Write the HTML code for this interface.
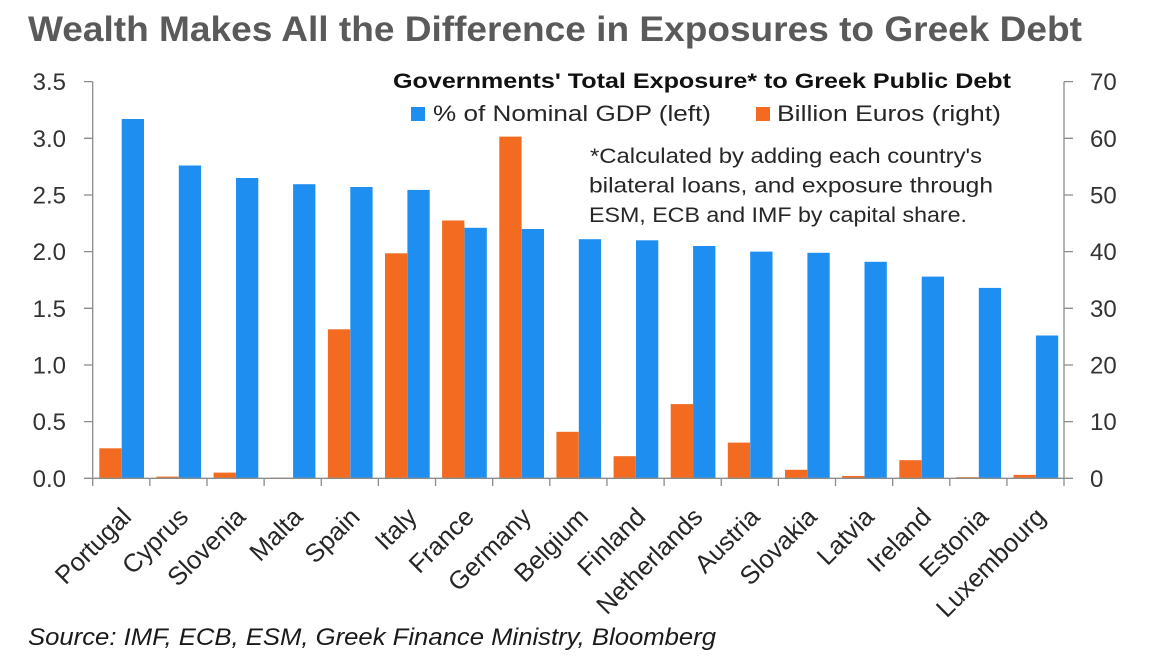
<!DOCTYPE html>
<html><head><meta charset="utf-8"><style>
html,body{margin:0;padding:0;background:#fff;}
svg{display:block;}
text{font-family:"Liberation Sans",Arial,sans-serif;}
</style></head><body>
<svg width="1168" height="656" viewBox="0 0 1168 656" xmlns="http://www.w3.org/2000/svg">
<rect width="1168" height="656" fill="#fff"/>
<text x="28" y="41" font-size="35" font-weight="bold" fill="#5a5a5a" textLength="1054" lengthAdjust="spacingAndGlyphs">Wealth Makes All the Difference in Exposures to Greek Debt</text>

<!-- bars -->
<g fill="#1f8ef1">
<rect x="121.7" y="119.0" width="22.3" height="359.3"/>
<rect x="178.8" y="165.5" width="22.3" height="312.8"/>
<rect x="236.0" y="178.0" width="22.3" height="300.3"/>
<rect x="293.1" y="184.2" width="22.3" height="294.1"/>
<rect x="350.3" y="187.0" width="22.3" height="291.3"/>
<rect x="407.4" y="189.9" width="22.3" height="288.4"/>
<rect x="464.5" y="227.8" width="22.3" height="250.5"/>
<rect x="521.7" y="229.0" width="22.3" height="249.3"/>
<rect x="578.8" y="239.2" width="22.3" height="239.1"/>
<rect x="636.0" y="240.3" width="22.3" height="238.0"/>
<rect x="693.1" y="246.0" width="22.3" height="232.3"/>
<rect x="750.2" y="251.6" width="22.3" height="226.7"/>
<rect x="807.4" y="252.8" width="22.3" height="225.5"/>
<rect x="864.5" y="261.8" width="22.3" height="216.5"/>
<rect x="921.7" y="276.6" width="22.3" height="201.7"/>
<rect x="978.8" y="287.9" width="22.3" height="190.4"/>
<rect x="1035.9" y="335.5" width="22.3" height="142.8"/>
</g>
<g fill="#f26b21">
<rect x="99.3" y="448.3" width="22.3" height="30.0"/>
<rect x="156.4" y="476.6" width="22.3" height="1.7"/>
<rect x="213.6" y="472.6" width="22.3" height="5.7"/>
<rect x="270.7" y="477.7" width="22.3" height="0.6"/>
<rect x="327.9" y="329.3" width="22.3" height="149.0"/>
<rect x="385.0" y="253.3" width="22.3" height="225.0"/>
<rect x="442.1" y="220.5" width="22.3" height="257.8"/>
<rect x="499.3" y="136.6" width="22.3" height="341.7"/>
<rect x="556.4" y="431.8" width="22.3" height="46.5"/>
<rect x="613.6" y="456.2" width="22.3" height="22.1"/>
<rect x="670.7" y="404.1" width="22.3" height="74.2"/>
<rect x="727.8" y="442.6" width="22.3" height="35.7"/>
<rect x="785.0" y="469.8" width="22.3" height="8.5"/>
<rect x="842.1" y="476.0" width="22.3" height="2.3"/>
<rect x="899.3" y="460.2" width="22.3" height="18.1"/>
<rect x="956.4" y="477.2" width="22.3" height="1.1"/>
<rect x="1013.5" y="474.9" width="22.3" height="3.4"/>
</g>

<!-- axes -->
<g stroke="#8c8c8c" stroke-width="1.3" fill="none">
<line x1="92.7" y1="81.6" x2="92.7" y2="478.3"/>
<line x1="1064" y1="81.6" x2="1064" y2="478.3"/>
<line x1="84" y1="478.3" x2="1073" y2="478.3"/>
<path d="M84 81.6H92.7M84 138.3H92.7M84 195H92.7M84 251.6H92.7M84 308.3H92.7M84 365H92.7M84 421.6H92.7"/>
<path d="M1064 81.6H1073M1064 138.3H1073M1064 195H1073M1064 251.6H1073M1064 308.3H1073M1064 365H1073M1064 421.6H1073"/>
<path d="M92.7 478.3V486M149.84 478.3V486M206.98 478.3V486M264.12 478.3V486M321.26 478.3V486M378.4 478.3V486M435.54 478.3V486M492.68 478.3V486M549.82 478.3V486M606.96 478.3V486M664.1 478.3V486M721.24 478.3V486M778.38 478.3V486M835.52 478.3V486M892.66 478.3V486M949.8 478.3V486M1006.94 478.3V486M1064 478.3V486"/>
</g>

<!-- left tick labels -->
<g font-size="24" fill="#333" text-anchor="end">
<text x="66" y="90">3.5</text>
<text x="66" y="147">3.0</text>
<text x="66" y="203.5">2.5</text>
<text x="66" y="260">2.0</text>
<text x="66" y="317">1.5</text>
<text x="66" y="373.5">1.0</text>
<text x="66" y="430">0.5</text>
<text x="66" y="487">0.0</text>
</g>
<!-- right tick labels -->
<g font-size="24" fill="#333" text-anchor="start">
<text x="1090" y="90">70</text>
<text x="1090" y="147">60</text>
<text x="1090" y="203.5">50</text>
<text x="1090" y="260">40</text>
<text x="1090" y="317">30</text>
<text x="1090" y="373.5">20</text>
<text x="1090" y="430">10</text>
<text x="1090" y="487">0</text>
</g>

<!-- x labels -->
<g font-size="25.5" fill="#262626" text-anchor="end">
<text transform="translate(132.7,518.5) rotate(-45)">Portugal</text>
<text transform="translate(189.8,518.5) rotate(-45)">Cyprus</text>
<text transform="translate(247,518.5) rotate(-45)">Slovenia</text>
<text transform="translate(304.1,518.5) rotate(-45)">Malta</text>
<text transform="translate(361.3,518.5) rotate(-45)">Spain</text>
<text transform="translate(418.4,518.5) rotate(-45)">Italy</text>
<text transform="translate(475.5,518.5) rotate(-45)">France</text>
<text transform="translate(532.7,518.5) rotate(-45)">Germany</text>
<text transform="translate(589.8,518.5) rotate(-45)">Belgium</text>
<text transform="translate(647,518.5) rotate(-45)">Finland</text>
<text transform="translate(704.1,518.5) rotate(-45)">Netherlands</text>
<text transform="translate(761.2,518.5) rotate(-45)">Austria</text>
<text transform="translate(818.4,518.5) rotate(-45)">Slovakia</text>
<text transform="translate(875.5,518.5) rotate(-45)">Latvia</text>
<text transform="translate(932.7,518.5) rotate(-45)">Ireland</text>
<text transform="translate(989.8,518.5) rotate(-45)">Estonia</text>
<text transform="translate(1046.9,518.5) rotate(-45)">Luxembourg</text>
</g>

<!-- legend -->
<text x="393" y="88" font-size="21" font-weight="bold" fill="#111" textLength="618" lengthAdjust="spacingAndGlyphs">Governments' Total Exposure* to Greek Public Debt</text>
<rect x="411" y="107" width="14" height="14" fill="#1f8ef1"/>
<text x="433" y="121" font-size="22" fill="#262626" textLength="278" lengthAdjust="spacingAndGlyphs">% of Nominal GDP (left)</text>
<rect x="756" y="107" width="14" height="14" fill="#f26b21"/>
<text x="777" y="121" font-size="22" fill="#262626" textLength="224" lengthAdjust="spacingAndGlyphs">Billion Euros (right)</text>

<g font-size="21" fill="#262626">
<text x="590" y="163" textLength="392" lengthAdjust="spacingAndGlyphs">*Calculated by adding each country's</text>
<text x="589" y="192.5" textLength="404" lengthAdjust="spacingAndGlyphs">bilateral loans, and exposure through</text>
<text x="589" y="222" textLength="378" lengthAdjust="spacingAndGlyphs">ESM, ECB and IMF by capital share.</text>
</g>

<text x="28" y="645" font-size="24" font-style="italic" fill="#1a1a1a" textLength="688" lengthAdjust="spacingAndGlyphs">Source: IMF, ECB, ESM, Greek Finance Ministry, Bloomberg</text>
</svg>
</body></html>
